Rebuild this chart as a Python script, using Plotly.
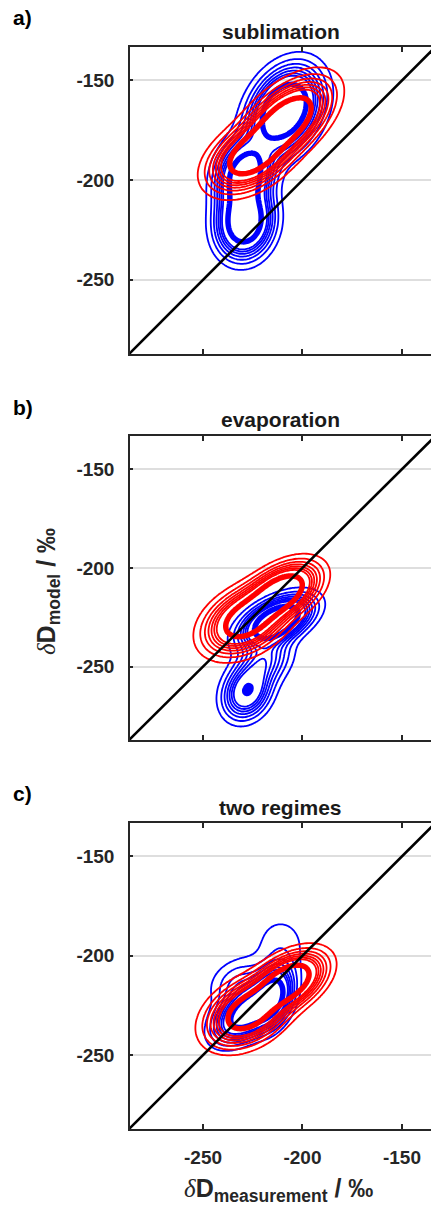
import numpy as np
import plotly.graph_objs as go

# axis ticks
tick_vals = [-250, -200, -150]
tick_text = ['-250', '-200', '-150']
titles = ['sublimation', 'evaporation', 'two regimes']
letters = ['a)', 'b)', 'c)']

# density bumps: (centre x, centre y, sd x, sd y, corr, peak)
a_blue = [(-209, -165, 10, 12, 0.3, 1.0), (-229, -221, 8, 10, 0.1, 0.9),
          (-229, -197, 8, 10, 0.2, 0.8)]
a_red = [(-208, -170, 12, 11, 0.55, 1.0), (-227, -189, 11, 9, 0.4, 0.8)]
b_blue = [(-213, -227, 10, 7, 0.5, 1.0), (-228, -263, 7, 8, 0.2, 0.53),
          (-219, -247, 8, 8, 0.3, 0.3)]
b_red = [(-210, -212, 10, 8, 0.45, 1.0), (-229, -227, 11, 9, 0.35, 0.9)]
c_blue = [(-228, -229, 9, 8, 0.5, 1.0), (-215, -220, 6, 9, 0.3, 0.8),
          (-232, -214, 9, 8, 0.2, 0.2), (-211, -194, 9, 10, 0.0, 0.1)]
c_red = [(-207, -213, 10, 8, 0.45, 1.0), (-228, -229, 11, 9, 0.35, 0.85)]

panels = [(a_blue, a_red), (b_blue, b_red), (c_blue, c_red)]

gx = np.arange(-290, -120.5, 1.0)
gy = np.arange(-300, -120.5, 1.0)
X, Y = np.meshgrid(gx, gy)


def density(comps):
    z = np.zeros_like(X)
    for cx, cy, sx, sy, r, h in comps:
        dx = (X - cx) / sx
        dy = (Y - cy) / sy
        q = (dx * dx - 2 * r * dx * dy + dy * dy) / (1 - r * r)
        z += h * np.exp(-0.5 * q)
    return np.round(z / z.max(), 4)


# pixel layout of the three boxes (431 x 1210 page)
W, H = 431, 1210
tops = [47, 436, 823]
bots = [354, 740, 1129]
x0 = 130

fig = go.Figure()
layout = dict(
    width=W, height=H, margin=dict(l=0, r=0, t=0, b=0),
    paper_bgcolor='white', plot_bgcolor='white', showlegend=False,
    font=dict(family='Liberation Sans', color='#262626'),
)
annos = []

for i, (blue, red) in enumerate(panels):
    sfx = '' if i == 0 else str(i + 1)
    xa, ya = 'x' + sfx, 'y' + sfx
    for comps, col in [(blue, '#0000ff'), (red, '#ff0000')]:
        z = density(comps)
        cs = [[0, col], [1, col]]
        fig.add_trace(go.Contour(x=gx, y=gy, z=z, xaxis=xa, yaxis=ya,
                                 autocontour=False, showscale=False, colorscale=cs,
                                 contours=dict(coloring='lines', start=0.05, end=0.35, size=0.05),
                                 line=dict(width=1.8, smoothing=1), hoverinfo='skip'))
        # the crowded inner contours, drawn as one fat line
        fig.add_trace(go.Contour(x=gx, y=gy, z=z, xaxis=xa, yaxis=ya,
                                 autocontour=False, showscale=False, colorscale=cs,
                                 contours=dict(coloring='lines', start=0.55, end=0.55, size=0.1),
                                 line=dict(width=5.5, smoothing=1), hoverinfo='skip'))
    fig.add_trace(go.Scatter(x=[-300, -100], y=[-300, -100], mode='lines', xaxis=xa, yaxis=ya,
                             line=dict(color='black', width=2.6), hoverinfo='skip'))

    ydom = [1 - bots[i] / H, 1 - tops[i] / H]
    layout['xaxis' + sfx] = dict(
        domain=[x0 / W, 1], range=[-286.7, -135.4], anchor=ya,
        tickvals=tick_vals, ticktext=tick_text, showticklabels=(i == 2),
        ticks='inside', ticklen=5, tickwidth=1.5, tickcolor='#262626',
        showline=True, linecolor='#262626', linewidth=1.5, mirror='ticks',
        showgrid=False, zeroline=False, ticklabelstandoff=10,
        tickfont=dict(size=19, weight='bold', color='#262626'),
    )
    layout['yaxis' + sfx] = dict(
        domain=ydom, range=[-287.2, -133.2], anchor=xa,
        tickvals=tick_vals, ticktext=tick_text,
        ticks='inside', ticklen=3, tickwidth=1.5, tickcolor='#262626',
        showline=True, linecolor='#262626', linewidth=1.5,
        showgrid=True, gridcolor='#dedede', gridwidth=1.5, zeroline=False,
        ticklabelstandoff=10,
        tickfont=dict(size=19, weight='bold', color='#262626'),
    )
    annos.append(dict(text='<b>' + titles[i] + '</b>', xref='paper', yref='paper',
                      x=(x0 + W) / 2 / W, y=1 - (tops[i] - 16) / H, showarrow=False,
                      xanchor='center', yanchor='middle', font=dict(size=21, color='#1a1a1a')))
    annos.append(dict(text='<b>' + letters[i] + '</b>', xref='paper', yref='paper',
                      x=11 / W, y=1 - (tops[i] - 29) / H, showarrow=False,
                      xanchor='left', yanchor='middle', font=dict(size=21, color='black')))

delta = "<span style=\"font-family:'Liberation Serif'\"><i>δ</i></span>"
annos.append(dict(text=delta + '<b>D<sub>model</sub> / ‰</b>', xref='paper', yref='paper',
                  x=48 / W, y=1 - 592 / H, showarrow=False, textangle=-90,
                  xanchor='center', yanchor='middle', font=dict(size=25, color='#262626')))
annos.append(dict(text=delta + '<b>D<sub>measurement</sub> / ‰</b>', xref='paper', yref='paper',
                  x=278 / W, y=1 - 1190 / H, showarrow=False,
                  xanchor='center', yanchor='middle', font=dict(size=25, color='#262626')))
layout['annotations'] = annos
fig.update_layout(**layout)

fig.write_html("out.html", config={'displayModeBar': False},
               post_script="document.body.style.margin='0px';")
